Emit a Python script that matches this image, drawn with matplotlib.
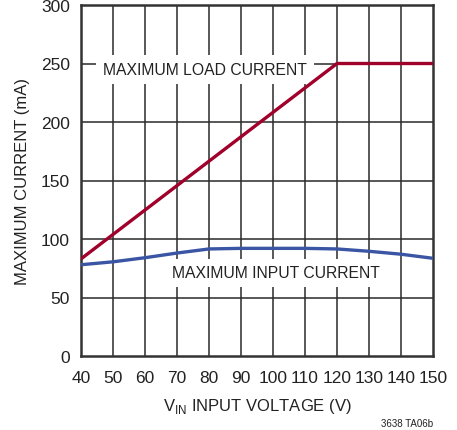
import numpy as np
import matplotlib
matplotlib.use("Agg")
import matplotlib.pyplot as plt

# values
vin = [40, 120, 150]
load_current = [83, 250, 250]

vin_in = [40, 50, 60, 70, 80, 90, 100, 110, 120, 130, 140, 150]
input_current = [78, 80.5, 84, 88, 91.5, 92, 92, 92, 91.5, 89.5, 87, 83.5]

xticks = np.arange(40, 151, 10)
yticks = np.arange(0, 301, 50)

plt.rcParams["font.family"] = ["Liberation Sans", "DejaVu Sans"]

fig = plt.figure(figsize=(4.57, 4.31), dpi=100)
ax = fig.add_axes([81 / 457, 1 - 357 / 431, 352 / 457, 351 / 431])

grid_c = "#2a2a2a"
for x in xticks[1:-1]:
    ax.axvline(x, color=grid_c, lw=1.1, zorder=1)
for y in yticks[1:-1]:
    ax.axhline(y, color=grid_c, lw=1.1, zorder=1)

ax.plot(vin, load_current, color="#A0002A", lw=2.4, zorder=3, solid_capstyle="butt")
ax.plot(vin_in, input_current, color="#3A55A4", lw=2.4, zorder=3, solid_capstyle="butt")

box = dict(facecolor="white", edgecolor="none", pad=5)
ax.text(78.8, 245, "MAXIMUM LOAD CURRENT", ha="center", va="center",
        fontsize=11.3, color="#222222", bbox=box, zorder=2)
ax.text(100.8, 71, "MAXIMUM INPUT CURRENT", ha="center", va="center",
        fontsize=11.3, color="#222222", bbox=box, zorder=2)

ax.set_xlim(40, 150)
ax.set_ylim(0, 300)
ax.set_xticks(xticks)
ax.set_yticks(yticks)
ax.tick_params(length=0, labelsize=12.5, colors="#222222")
ax.tick_params(axis="x", pad=10)
ax.tick_params(axis="y", pad=8)
for s in ax.spines.values():
    s.set_color("#333333")
    s.set_linewidth(1.8)

ax.set_xlabel("V$_{\\mathregular{IN}}$ INPUT VOLTAGE (V)", fontsize=12, color="#222222", labelpad=8)
ax.set_ylabel("MAXIMUM CURRENT (mA)", fontsize=12, color="#222222", labelpad=8)

fig.text(433 / 457, 1 - 424 / 431, "3638 TA06b", ha="right", va="center",
         fontsize=7, color="#222222")

fig.savefig("out.png", dpi=100)
